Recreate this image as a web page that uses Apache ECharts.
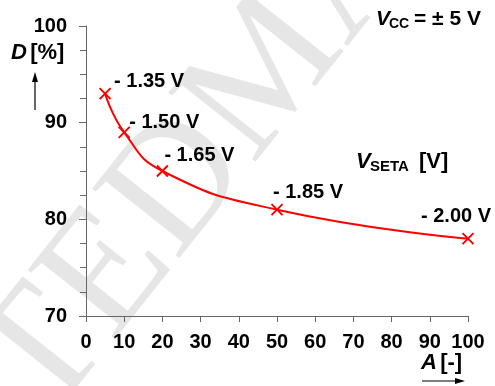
<!DOCTYPE html>
<html>
<head>
<meta charset="utf-8">
<script src="https://cdn.jsdelivr.net/npm/echarts@6/dist/echarts.min.js"></script>
<style>
html,body{margin:0;padding:0;background:#fff;}
#chart{width:495px;height:386px;}
</style>
</head>
<body>
<div id="chart"></div>
<script>
// Data
const gainA = [5, 10, 20, 50, 100];
const distortionD = [93, 89, 85, 81, 78];
const setaLabels = ['- 1.35 V', '- 1.50 V', '- 1.65 V', '- 1.85 V', '- 2.00 V'];
const xTicks = [0, 10, 20, 30, 40, 50, 60, 70, 80, 90, 100];
const yTicks = [70, 80, 90, 100];

const labelOffsets = [[9, -12], [5, -10], [2, -16], [-4, -17], [-47, -22]];
const FONT = 'Liberation Sans, Arial, Helvetica, sans-serif';
const chart = echarts.init(document.getElementById('chart'), null, {renderer: 'canvas'});

const seriesData = gainA.map((a, i) => ({
  value: [a, distortionD[i]],
  label: {
    show: true,
    formatter: setaLabels[i],
    position: 'inside',
    align: 'left',
    verticalAlign: 'middle',
    offset: labelOffsets[i],
    color: '#000',
    fontWeight: 'bold',
    fontSize: 20,
    fontFamily: FONT
  }
}));

const axisTxt = {color: '#000', fontWeight: 'bold', fontSize: 20, fontFamily: FONT};

chart.setOption({
  backgroundColor: '#fff',
  animation: false,
  grid: {left: 86, right: 27, top: 26, bottom: 70, containLabel: false},
  xAxis: {
    type: 'value', min: xTicks[0], max: xTicks[xTicks.length - 1], interval: 10,
    axisLine: {show: true, lineStyle: {color: '#666', width: 1}},
    axisTick: {show: true, inside: false, length: 6, lineStyle: {color: '#666'}},
    splitLine: {show: false},
    axisLabel: Object.assign({margin: 16}, axisTxt)
  },
  yAxis: {
    type: 'value', min: yTicks[0], max: yTicks[yTicks.length - 1], interval: 10,
    axisLine: {show: true, lineStyle: {color: '#666', width: 1}},
    axisTick: {show: true, inside: false, length: 7, lineStyle: {color: '#666'}},
    minorTick: {show: true, splitNumber: 4, length: 6, lineStyle: {color: '#666'}},
    splitLine: {show: false},
    axisLabel: Object.assign({margin: 19}, axisTxt)
  },
  graphic: [
    {type: 'text', z: -10, x: 200, y: 160, rotation: 0.9, silent: true,
      style: {text: 'TEDMA', font: '170px "Liberation Serif", "DejaVu Serif", serif', fill: '#e6e6e6',
              align: 'center', verticalAlign: 'middle'}},
    {type: 'text', x: 11, y: 53, style: {
      text: '{i|D} {n|[%]}', verticalAlign: 'middle', align: 'left',
      rich: {i: {fontStyle: 'italic', fontWeight: 'bold', fontSize: 22, fontFamily: FONT, fill: '#000'},
             n: {fontWeight: 'bold', fontSize: 22, fontFamily: FONT, fill: '#000'}}}},
    {type: 'line', shape: {x1: 35, y1: 110, x2: 35, y2: 80}, style: {stroke: '#000', lineWidth: 1.2}},
    {type: 'polygon', shape: {points: [[35, 72], [32, 82], [38, 82]]}, style: {fill: '#000'}},
    {type: 'text', x: 421, y: 363, style: {
      text: '{i|A} {n|[-]}', verticalAlign: 'middle', align: 'left',
      rich: {i: {fontStyle: 'italic', fontWeight: 'bold', fontSize: 22, fontFamily: FONT, fill: '#000'},
             n: {fontWeight: 'bold', fontSize: 22, fontFamily: FONT, fill: '#000'}}}},
    {type: 'line', shape: {x1: 422, y1: 381, x2: 456, y2: 381}, style: {stroke: '#000', lineWidth: 1.2}},
    {type: 'polygon', shape: {points: [[465, 381], [455, 378], [455, 384]]}, style: {fill: '#000'}},
    {type: 'text', x: 376, y: 19, style: {text: 'V', font: 'italic bold 21px ' + FONT, fill: '#000', verticalAlign: 'middle'}},
    {type: 'text', x: 389, y: 24, style: {text: 'CC', font: 'bold 14px ' + FONT, fill: '#000', verticalAlign: 'middle'}},
    {type: 'text', x: 414, y: 19, style: {text: '= ± 5 V', font: 'bold 21px ' + FONT, fill: '#000', verticalAlign: 'middle'}},
    {type: 'text', x: 356, y: 162, style: {text: 'V', font: 'italic bold 22px ' + FONT, fill: '#000', verticalAlign: 'middle'}},
    {type: 'text', x: 370, y: 167, style: {text: 'SETA', font: 'bold 15px ' + FONT, fill: '#000', verticalAlign: 'middle'}},
    {type: 'text', x: 419, y: 162, style: {text: '[V]', font: 'bold 22px ' + FONT, fill: '#000', verticalAlign: 'middle'}}
  ],
  series: [{
    type: 'line',
    data: seriesData,
    smooth: 0.5,
    lineStyle: {color: '#ff0000', width: 2},
    symbol: 'path://M0,0L10,10M10,0L0,10',
    symbolSize: 11,
    itemStyle: {color: '#ff0000', borderColor: '#ff0000', borderWidth: 2},
    z: 5
  }]
});
</script>
</body>
</html>
